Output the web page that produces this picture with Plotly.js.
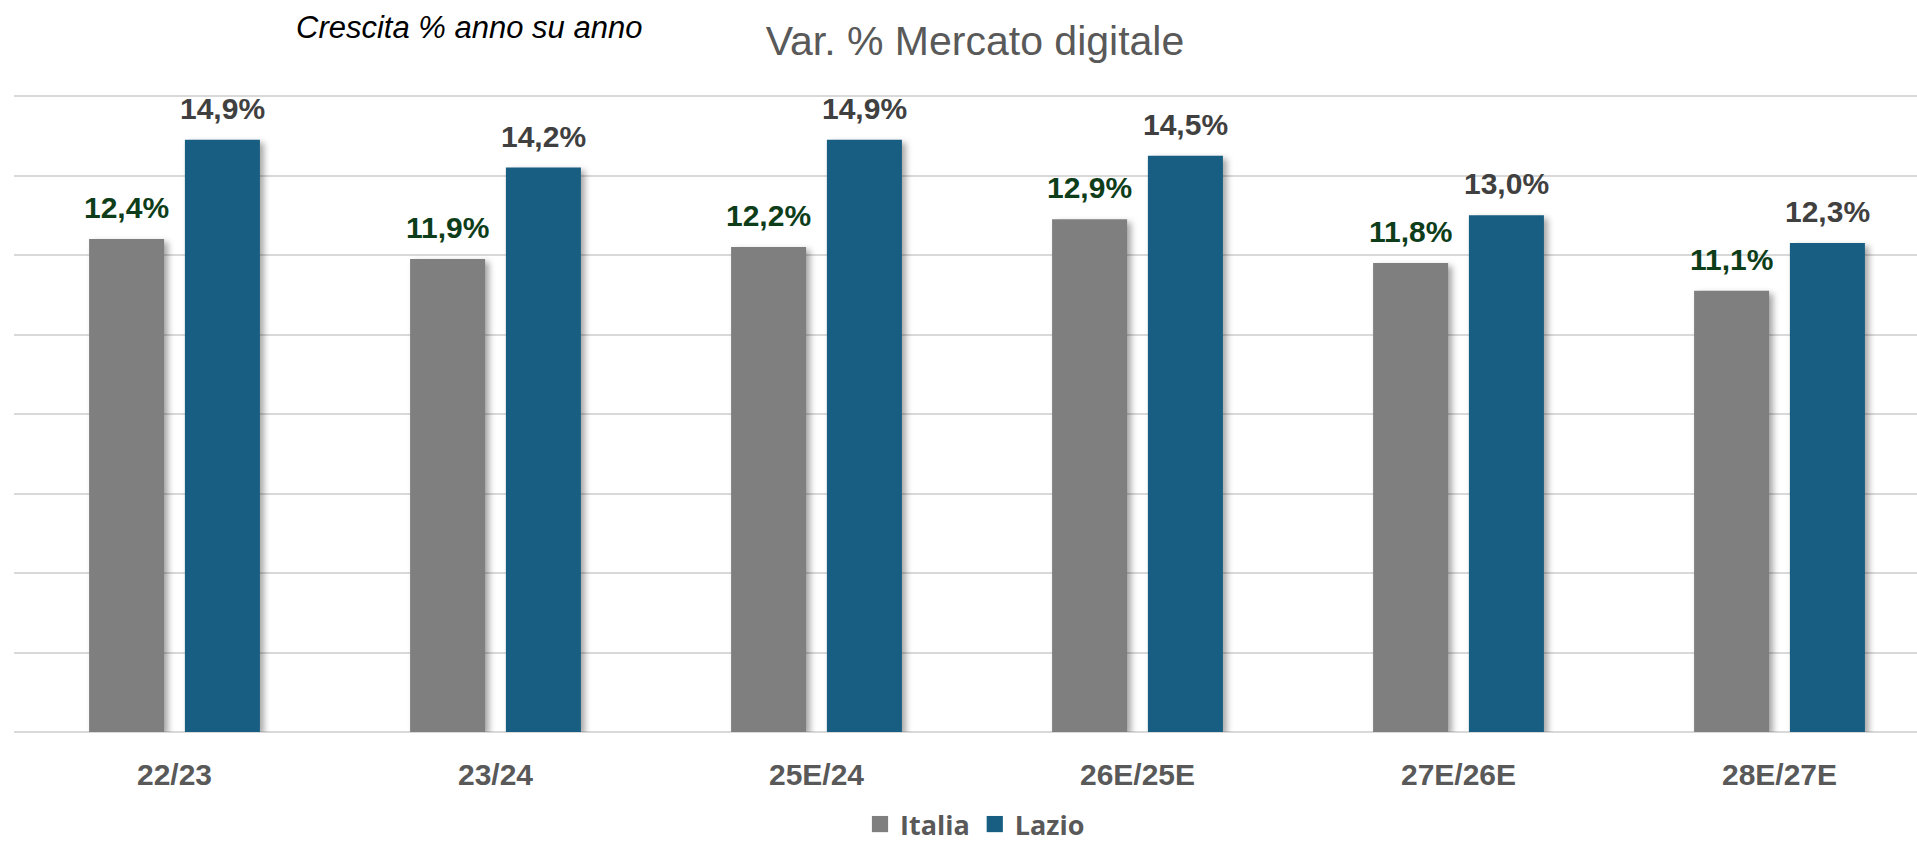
<!DOCTYPE html>
<html>
<head>
<meta charset="utf-8">
<script src="https://cdn.plot.ly/plotly-3.0.1.min.js"></script>
<style>
  html, body { margin: 0; padding: 0; background: #ffffff; }
  #chart { width: 1917px; height: 846px; }
  .barlayer .point path { filter: drop-shadow(4px 3px 3px rgba(0,0,0,0.35)); }
  .legend .legendpoints path { transform: translate(20px, 0px) scale(1.35); }
</style>
</head>
<body>
<div id="chart"></div>
<script>
const categories = ['22/23', '23/24', '25E/24', '26E/25E', '27E/26E', '28E/27E'];
const italia = [12.4, 11.9, 12.2, 12.9, 11.8, 11.1];
const lazio = [14.9, 14.2, 14.9, 14.5, 13.0, 12.3];
const seriesNames = ['Italia', 'Lazio'];
const chartTitle = 'Var. % Mercato digitale';
const subTitle = 'Crescita % anno su anno';

const fmt = v => v.toFixed(1).replace('.', ',') + '%';

const BARGAP = 0.403;
const GROUPGAP = 0.217;
const slot = (1 - BARGAP) / 2;
const offset = slot / 2;

const traces = [
  {
    type: 'bar', name: seriesNames[0], x: categories, y: italia,
    marker: { color: '#7f7f7f' }, hoverinfo: 'none'
  },
  {
    type: 'bar', name: seriesNames[1], x: categories, y: lazio,
    marker: { color: '#175e82' }, hoverinfo: 'none'
  }
];

const labelFont = 'Liberation Sans, Arial, sans-serif';
const annotations = [];
categories.forEach((c, i) => {
  annotations.push({
    xref: 'x', yref: 'y', x: i - offset, y: italia[i], text: fmt(italia[i]),
    showarrow: false, yanchor: 'bottom', xanchor: 'center', yshift: 13,
    font: { family: labelFont, size: 30, color: '#0e3d1a', weight: 'bold' }
  });
  annotations.push({
    xref: 'x', yref: 'y', x: i + offset, y: lazio[i], text: fmt(lazio[i]),
    showarrow: false, yanchor: 'bottom', xanchor: 'center', yshift: 13,
    font: { family: labelFont, size: 30, color: '#404040', weight: 'bold' }
  });
});
annotations.push({
  xref: 'paper', yref: 'paper', x: (469 - 14) / (1917 - 14), y: (732 - 27) / 638,
  xanchor: 'center', yanchor: 'middle', showarrow: false, text: subTitle,
  font: { family: labelFont, size: 31, color: '#000000', style: 'italic' }
});

const layout = {
  width: 1917, height: 846,
  margin: { l: 14, r: 0, t: 94, b: 114, pad: 0, autoexpand: false },
  paper_bgcolor: '#ffffff', plot_bgcolor: '#ffffff',
  barmode: 'group', bargap: BARGAP, bargroupgap: GROUPGAP,
  title: {
    text: chartTitle, x: 975 / 1917, xanchor: 'center', xref: 'container',
    y: 1 - 41 / 846, yanchor: 'middle', yref: 'container',
    font: { family: labelFont, size: 41, color: '#595959' }
  },
  xaxis: {
    type: 'category', range: [-0.5, -0.5 + (1917 - 14) / 321], automargin: false,
    showgrid: false, zeroline: false, showline: false,
    ticks: 'outside', ticklen: 16, tickcolor: 'rgba(0,0,0,0)',
    tickfont: { family: labelFont, size: 30, color: '#595959', weight: 'bold' }
  },
  yaxis: {
    range: [0, 638 / 39.75], dtick: 2, tick0: 0, showticklabels: false, automargin: false,
    showgrid: true, gridcolor: '#d9d9d9', gridwidth: 2,
    zeroline: true, zerolinecolor: '#d9d9d9', zerolinewidth: 2, showline: false
  },
  showlegend: true,
  legend: {
    orientation: 'h', xref: 'paper', x: (975 - 14) / 1903, xanchor: 'center',
    yref: 'paper', y: -0.145, yanchor: 'middle',
    font: { family: 'Open Sans, sans-serif', size: 27, color: '#595959', weight: 'bold' },
    itemclick: false, itemdoubleclick: false
  },
  annotations: annotations
};

Plotly.newPlot('chart', traces, layout, { displayModeBar: false, staticPlot: true });
</script>
</body>
</html>
